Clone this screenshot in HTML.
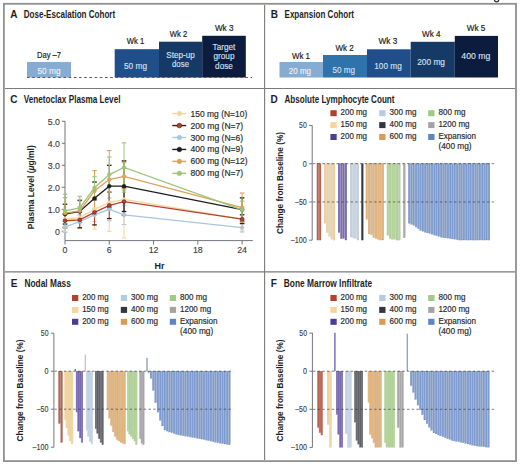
<!DOCTYPE html>
<html><head><meta charset="utf-8"><style>
html,body{margin:0;padding:0;background:#fff;width:520px;height:466px;overflow:hidden}
svg{display:block}
text{font-family:"Liberation Sans", sans-serif}
</style></head><body>
<svg width="520" height="466" viewBox="0 0 520 466">
<rect width="520" height="466" fill="#fff"/>
<path d="M494.3,-1 Q494.4,1.9 496.6,1.9 Q498.8,1.9 498.9,-1" fill="none" stroke="#2a2a2a" stroke-width="1.3"/>
<rect x="3.9" y="3.8" width="512.1" height="457.3" fill="none" stroke="#909090" stroke-width="1.8"/>
<line x1="5.00" y1="88.50" x2="515.00" y2="88.50" stroke="#7a7a7a" stroke-width="1.15"/>
<line x1="5.00" y1="271.90" x2="515.00" y2="271.90" stroke="#7a7a7a" stroke-width="1.15"/>
<line x1="264.60" y1="5.00" x2="264.60" y2="460.00" stroke="#7a7a7a" stroke-width="1.1"/>
<text x="10.3" y="17.8" font-size="10" font-weight="bold" fill="#1e1e1e" text-anchor="start">A</text>
<text x="23.7" y="17.8" font-size="10" font-weight="bold" fill="#1e1e1e" text-anchor="start" textLength="91.5" lengthAdjust="spacingAndGlyphs">Dose-Escalation Cohort</text>
<rect x="27.00" y="62.00" width="44.00" height="15.50" fill="#86acd3"/>
<text x="49" y="73.8" font-size="8.2" font-weight="normal" fill="#eef3f9" text-anchor="middle" textLength="23" lengthAdjust="spacingAndGlyphs" stroke="#eef3f9" stroke-width="0.12">50 mg</text>
<text x="49" y="57.8" font-size="8.2" font-weight="normal" fill="#222" text-anchor="middle" textLength="24" lengthAdjust="spacingAndGlyphs" stroke="#222" stroke-width="0.18">Day –7</text>
<rect x="114.70" y="49.20" width="44.30" height="28.30" fill="#1f4e8a"/>
<rect x="159.00" y="41.70" width="43.20" height="35.80" fill="#163a66"/>
<rect x="202.20" y="35.80" width="43.60" height="41.70" fill="#0c1c3e"/>
<text x="135.5" y="43.8" font-size="8.2" font-weight="normal" fill="#222" text-anchor="middle" textLength="17.5" lengthAdjust="spacingAndGlyphs" stroke="#222" stroke-width="0.18">Wk 1</text>
<text x="178.6" y="37.3" font-size="8.2" font-weight="normal" fill="#222" text-anchor="middle" textLength="17.5" lengthAdjust="spacingAndGlyphs" stroke="#222" stroke-width="0.18">Wk 2</text>
<text x="224.2" y="31.2" font-size="8.2" font-weight="normal" fill="#222" text-anchor="middle" textLength="18.5" lengthAdjust="spacingAndGlyphs" stroke="#222" stroke-width="0.18">Wk 3</text>
<text x="135.5" y="68.7" font-size="8.2" font-weight="normal" fill="#d9e2ef" text-anchor="middle" textLength="23" lengthAdjust="spacingAndGlyphs" stroke="#d9e2ef" stroke-width="0.12">50 mg</text>
<text x="180.5" y="57.5" font-size="8.2" font-weight="normal" fill="#d9e2ef" text-anchor="middle" textLength="28.5" lengthAdjust="spacingAndGlyphs" stroke="#d9e2ef" stroke-width="0.12">Step-up</text>
<text x="180.5" y="67" font-size="8.2" font-weight="normal" fill="#d9e2ef" text-anchor="middle" textLength="17" lengthAdjust="spacingAndGlyphs" stroke="#d9e2ef" stroke-width="0.12">dose</text>
<text x="224" y="49.6" font-size="8.2" font-weight="normal" fill="#d9e2ef" text-anchor="middle" stroke="#d9e2ef" stroke-width="0.12">Target</text>
<text x="224" y="59.4" font-size="8.2" font-weight="normal" fill="#d9e2ef" text-anchor="middle" stroke="#d9e2ef" stroke-width="0.12">group</text>
<text x="224" y="69.2" font-size="8.2" font-weight="normal" fill="#d9e2ef" text-anchor="middle" stroke="#d9e2ef" stroke-width="0.12">dose</text>
<line x1="27.00" y1="77.50" x2="252.00" y2="77.50" stroke="#5e5a5c" stroke-width="1.1" stroke-dasharray="2.6,2.6"/>
<text x="270.8" y="17.8" font-size="10" font-weight="bold" fill="#1e1e1e" text-anchor="start">B</text>
<text x="284.5" y="17.8" font-size="10" font-weight="bold" fill="#1e1e1e" text-anchor="start" textLength="69.5" lengthAdjust="spacingAndGlyphs">Expansion Cohort</text>
<rect x="279.50" y="62.00" width="43.50" height="15.50" fill="#86acd3"/>
<rect x="323.00" y="55.00" width="44.00" height="22.50" fill="#2f73ad"/>
<rect x="367.00" y="49.30" width="43.70" height="28.20" fill="#1f4e8a"/>
<rect x="410.70" y="41.80" width="44.10" height="35.70" fill="#163a66"/>
<rect x="454.80" y="35.90" width="43.20" height="41.60" fill="#0c1c3e"/>
<text x="301" y="58.8" font-size="8.4" font-weight="normal" fill="#222" text-anchor="middle" textLength="18" lengthAdjust="spacingAndGlyphs" stroke="#222" stroke-width="0.18">Wk 1</text>
<text x="344.6" y="51.3" font-size="8.4" font-weight="normal" fill="#222" text-anchor="middle" textLength="18.3" lengthAdjust="spacingAndGlyphs" stroke="#222" stroke-width="0.18">Wk 2</text>
<text x="387.9" y="44.2" font-size="8.4" font-weight="normal" fill="#222" text-anchor="middle" textLength="18.8" lengthAdjust="spacingAndGlyphs" stroke="#222" stroke-width="0.18">Wk 3</text>
<text x="431.25" y="37.4" font-size="8.4" font-weight="normal" fill="#222" text-anchor="middle" textLength="18.5" lengthAdjust="spacingAndGlyphs" stroke="#222" stroke-width="0.18">Wk 4</text>
<text x="476" y="31.4" font-size="8.4" font-weight="normal" fill="#222" text-anchor="middle" textLength="18.5" lengthAdjust="spacingAndGlyphs" stroke="#222" stroke-width="0.18">Wk 5</text>
<text x="299.9" y="73.8" font-size="8.4" font-weight="normal" fill="#eef3f9" text-anchor="middle" textLength="22.3" lengthAdjust="spacingAndGlyphs" stroke="#eef3f9" stroke-width="0.12">20 mg</text>
<text x="343.75" y="72.5" font-size="8.4" font-weight="normal" fill="#d9e2ef" text-anchor="middle" textLength="22.5" lengthAdjust="spacingAndGlyphs" stroke="#d9e2ef" stroke-width="0.12">50 mg</text>
<text x="388" y="68.6" font-size="8.4" font-weight="normal" fill="#d9e2ef" text-anchor="middle" textLength="27.4" lengthAdjust="spacingAndGlyphs" stroke="#d9e2ef" stroke-width="0.12">100 mg</text>
<text x="431.1" y="65" font-size="8.4" font-weight="normal" fill="#d9e2ef" text-anchor="middle" textLength="27.8" lengthAdjust="spacingAndGlyphs" stroke="#d9e2ef" stroke-width="0.12">200 mg</text>
<text x="475.8" y="59.1" font-size="8.4" font-weight="normal" fill="#d9e2ef" text-anchor="middle" textLength="29" lengthAdjust="spacingAndGlyphs" stroke="#d9e2ef" stroke-width="0.12">400 mg</text>
<text x="10.3" y="102.7" font-size="10" font-weight="bold" fill="#1e1e1e" text-anchor="start">C</text>
<text x="23.7" y="102.7" font-size="10" font-weight="bold" fill="#1e1e1e" text-anchor="start" textLength="96.8" lengthAdjust="spacingAndGlyphs">Venetoclax Plasma Level</text>
<line x1="65.00" y1="121.00" x2="65.00" y2="240.60" stroke="#72757c" stroke-width="1"/>
<line x1="65.00" y1="240.60" x2="252.80" y2="240.60" stroke="#72757c" stroke-width="1"/>
<line x1="61.80" y1="231.30" x2="65.00" y2="231.30" stroke="#72757c" stroke-width="1"/>
<text x="60.0" y="234.5" font-size="8.8" font-weight="normal" fill="#3a3a3a" text-anchor="end" stroke="#3a3a3a" stroke-width="0.12">0</text>
<line x1="61.80" y1="209.30" x2="65.00" y2="209.30" stroke="#72757c" stroke-width="1"/>
<text x="60.0" y="212.5" font-size="8.8" font-weight="normal" fill="#3a3a3a" text-anchor="end" stroke="#3a3a3a" stroke-width="0.12">1.0</text>
<line x1="61.80" y1="187.30" x2="65.00" y2="187.30" stroke="#72757c" stroke-width="1"/>
<text x="60.0" y="190.5" font-size="8.8" font-weight="normal" fill="#3a3a3a" text-anchor="end" stroke="#3a3a3a" stroke-width="0.12">2.0</text>
<line x1="61.80" y1="165.30" x2="65.00" y2="165.30" stroke="#72757c" stroke-width="1"/>
<text x="60.0" y="168.5" font-size="8.8" font-weight="normal" fill="#3a3a3a" text-anchor="end" stroke="#3a3a3a" stroke-width="0.12">3.0</text>
<line x1="61.80" y1="143.30" x2="65.00" y2="143.30" stroke="#72757c" stroke-width="1"/>
<text x="60.0" y="146.5" font-size="8.8" font-weight="normal" fill="#3a3a3a" text-anchor="end" stroke="#3a3a3a" stroke-width="0.12">4.0</text>
<line x1="61.80" y1="121.30" x2="65.00" y2="121.30" stroke="#72757c" stroke-width="1"/>
<text x="60.0" y="124.50000000000001" font-size="8.8" font-weight="normal" fill="#3a3a3a" text-anchor="end" stroke="#3a3a3a" stroke-width="0.12">5.0</text>
<line x1="65.00" y1="240.60" x2="65.00" y2="244.50" stroke="#72757c" stroke-width="1"/>
<text x="65.0" y="253.4" font-size="8.8" font-weight="normal" fill="#3a3a3a" text-anchor="middle" stroke="#3a3a3a" stroke-width="0.12">0</text>
<line x1="109.28" y1="240.60" x2="109.28" y2="244.50" stroke="#72757c" stroke-width="1"/>
<text x="109.28" y="253.4" font-size="8.8" font-weight="normal" fill="#3a3a3a" text-anchor="middle" stroke="#3a3a3a" stroke-width="0.12">6</text>
<line x1="153.56" y1="240.60" x2="153.56" y2="244.50" stroke="#72757c" stroke-width="1"/>
<text x="153.56" y="253.4" font-size="8.8" font-weight="normal" fill="#3a3a3a" text-anchor="middle" stroke="#3a3a3a" stroke-width="0.12">12</text>
<line x1="197.84" y1="240.60" x2="197.84" y2="244.50" stroke="#72757c" stroke-width="1"/>
<text x="197.84" y="253.4" font-size="8.8" font-weight="normal" fill="#3a3a3a" text-anchor="middle" stroke="#3a3a3a" stroke-width="0.12">18</text>
<line x1="242.12" y1="240.60" x2="242.12" y2="244.50" stroke="#72757c" stroke-width="1"/>
<text x="242.12" y="253.4" font-size="8.8" font-weight="normal" fill="#3a3a3a" text-anchor="middle" stroke="#3a3a3a" stroke-width="0.12">24</text>
<text x="159.4" y="269.4" font-size="9" font-weight="bold" fill="#1e1e1e" text-anchor="middle">Hr</text>
<text x="0" y="0" font-size="8.4" font-weight="bold" fill="#1e1e1e" text-anchor="middle" textLength="84" lengthAdjust="spacingAndGlyphs" transform="translate(34.3,187.2) rotate(-90)">Plasma Level (<tspan font-style="italic">μ</tspan>g/ml)</text>
<line x1="65.00" y1="221.40" x2="65.00" y2="232.40" stroke="#aac6de" stroke-width="1.0"/>
<line x1="62.70" y1="221.40" x2="67.30" y2="221.40" stroke="#aac6de" stroke-width="1.1"/>
<line x1="62.70" y1="232.40" x2="67.30" y2="232.40" stroke="#aac6de" stroke-width="1.1"/>
<line x1="79.76" y1="215.02" x2="79.76" y2="228.22" stroke="#aac6de" stroke-width="1.0"/>
<line x1="77.46" y1="215.02" x2="82.06" y2="215.02" stroke="#aac6de" stroke-width="1.1"/>
<line x1="77.46" y1="228.22" x2="82.06" y2="228.22" stroke="#aac6de" stroke-width="1.1"/>
<line x1="94.52" y1="208.20" x2="94.52" y2="221.40" stroke="#aac6de" stroke-width="1.0"/>
<line x1="92.22" y1="208.20" x2="96.82" y2="208.20" stroke="#aac6de" stroke-width="1.1"/>
<line x1="92.22" y1="221.40" x2="96.82" y2="221.40" stroke="#aac6de" stroke-width="1.1"/>
<line x1="109.28" y1="197.86" x2="109.28" y2="220.74" stroke="#aac6de" stroke-width="1.0"/>
<line x1="106.98" y1="197.86" x2="111.58" y2="197.86" stroke="#aac6de" stroke-width="1.1"/>
<line x1="106.98" y1="220.74" x2="111.58" y2="220.74" stroke="#aac6de" stroke-width="1.1"/>
<line x1="124.04" y1="205.12" x2="124.04" y2="224.48" stroke="#aac6de" stroke-width="1.0"/>
<line x1="121.74" y1="205.12" x2="126.34" y2="205.12" stroke="#aac6de" stroke-width="1.1"/>
<line x1="121.74" y1="224.48" x2="126.34" y2="224.48" stroke="#aac6de" stroke-width="1.1"/>
<line x1="242.12" y1="223.16" x2="242.12" y2="231.96" stroke="#aac6de" stroke-width="1.0"/>
<line x1="239.82" y1="223.16" x2="244.42" y2="223.16" stroke="#aac6de" stroke-width="1.1"/>
<line x1="239.82" y1="231.96" x2="244.42" y2="231.96" stroke="#aac6de" stroke-width="1.1"/>
<line x1="65.00" y1="207.10" x2="65.00" y2="231.30" stroke="#f6d59c" stroke-width="1.0"/>
<line x1="62.70" y1="207.10" x2="67.30" y2="207.10" stroke="#f6d59c" stroke-width="1.1"/>
<line x1="62.70" y1="231.30" x2="67.30" y2="231.30" stroke="#f6d59c" stroke-width="1.1"/>
<line x1="79.76" y1="206.66" x2="79.76" y2="228.66" stroke="#f6d59c" stroke-width="1.0"/>
<line x1="77.46" y1="206.66" x2="82.06" y2="206.66" stroke="#f6d59c" stroke-width="1.1"/>
<line x1="77.46" y1="228.66" x2="82.06" y2="228.66" stroke="#f6d59c" stroke-width="1.1"/>
<line x1="94.52" y1="189.50" x2="94.52" y2="229.10" stroke="#f6d59c" stroke-width="1.0"/>
<line x1="92.22" y1="189.50" x2="96.82" y2="189.50" stroke="#f6d59c" stroke-width="1.1"/>
<line x1="92.22" y1="229.10" x2="96.82" y2="229.10" stroke="#f6d59c" stroke-width="1.1"/>
<line x1="109.28" y1="174.10" x2="109.28" y2="231.30" stroke="#f6d59c" stroke-width="1.0"/>
<line x1="106.98" y1="174.10" x2="111.58" y2="174.10" stroke="#f6d59c" stroke-width="1.1"/>
<line x1="106.98" y1="231.30" x2="111.58" y2="231.30" stroke="#f6d59c" stroke-width="1.1"/>
<line x1="124.04" y1="160.90" x2="124.04" y2="237.90" stroke="#f6d59c" stroke-width="1.0"/>
<line x1="121.74" y1="160.90" x2="126.34" y2="160.90" stroke="#f6d59c" stroke-width="1.1"/>
<line x1="121.74" y1="237.90" x2="126.34" y2="237.90" stroke="#f6d59c" stroke-width="1.1"/>
<line x1="242.12" y1="208.20" x2="242.12" y2="230.20" stroke="#f6d59c" stroke-width="1.0"/>
<line x1="239.82" y1="208.20" x2="244.42" y2="208.20" stroke="#f6d59c" stroke-width="1.1"/>
<line x1="239.82" y1="230.20" x2="244.42" y2="230.20" stroke="#f6d59c" stroke-width="1.1"/>
<line x1="65.00" y1="214.14" x2="65.00" y2="227.34" stroke="#b8402c" stroke-width="1.0"/>
<line x1="62.70" y1="214.14" x2="67.30" y2="214.14" stroke="#3a1a12" stroke-width="1.3"/>
<line x1="62.70" y1="227.34" x2="67.30" y2="227.34" stroke="#3a1a12" stroke-width="1.3"/>
<line x1="79.76" y1="211.94" x2="79.76" y2="227.78" stroke="#b8402c" stroke-width="1.0"/>
<line x1="77.46" y1="211.94" x2="82.06" y2="211.94" stroke="#3a1a12" stroke-width="1.3"/>
<line x1="77.46" y1="227.78" x2="82.06" y2="227.78" stroke="#3a1a12" stroke-width="1.3"/>
<line x1="94.52" y1="199.84" x2="94.52" y2="224.92" stroke="#b8402c" stroke-width="1.0"/>
<line x1="92.22" y1="199.84" x2="96.82" y2="199.84" stroke="#3a1a12" stroke-width="1.3"/>
<line x1="92.22" y1="224.92" x2="96.82" y2="224.92" stroke="#3a1a12" stroke-width="1.3"/>
<line x1="109.28" y1="192.14" x2="109.28" y2="218.54" stroke="#b8402c" stroke-width="1.0"/>
<line x1="106.98" y1="192.14" x2="111.58" y2="192.14" stroke="#3a1a12" stroke-width="1.3"/>
<line x1="106.98" y1="218.54" x2="111.58" y2="218.54" stroke="#3a1a12" stroke-width="1.3"/>
<line x1="124.04" y1="187.74" x2="124.04" y2="215.46" stroke="#b8402c" stroke-width="1.0"/>
<line x1="121.74" y1="187.74" x2="126.34" y2="187.74" stroke="#3a1a12" stroke-width="1.3"/>
<line x1="121.74" y1="215.46" x2="126.34" y2="215.46" stroke="#3a1a12" stroke-width="1.3"/>
<line x1="242.12" y1="214.80" x2="242.12" y2="223.60" stroke="#b8402c" stroke-width="1.0"/>
<line x1="239.82" y1="214.80" x2="244.42" y2="214.80" stroke="#3a1a12" stroke-width="1.3"/>
<line x1="239.82" y1="223.60" x2="244.42" y2="223.60" stroke="#3a1a12" stroke-width="1.3"/>
<line x1="65.00" y1="204.24" x2="65.00" y2="224.04" stroke="#1e1e1e" stroke-width="1.0"/>
<line x1="62.70" y1="204.24" x2="67.30" y2="204.24" stroke="#1e1e1e" stroke-width="1.3"/>
<line x1="62.70" y1="224.04" x2="67.30" y2="224.04" stroke="#1e1e1e" stroke-width="1.3"/>
<line x1="79.76" y1="200.50" x2="79.76" y2="222.50" stroke="#1e1e1e" stroke-width="1.0"/>
<line x1="77.46" y1="200.50" x2="82.06" y2="200.50" stroke="#1e1e1e" stroke-width="1.3"/>
<line x1="77.46" y1="222.50" x2="82.06" y2="222.50" stroke="#1e1e1e" stroke-width="1.3"/>
<line x1="94.52" y1="182.02" x2="94.52" y2="214.58" stroke="#1e1e1e" stroke-width="1.0"/>
<line x1="92.22" y1="182.02" x2="96.82" y2="182.02" stroke="#1e1e1e" stroke-width="1.3"/>
<line x1="92.22" y1="214.58" x2="96.82" y2="214.58" stroke="#1e1e1e" stroke-width="1.3"/>
<line x1="109.28" y1="165.30" x2="109.28" y2="207.10" stroke="#1e1e1e" stroke-width="1.0"/>
<line x1="106.98" y1="165.30" x2="111.58" y2="165.30" stroke="#1e1e1e" stroke-width="1.3"/>
<line x1="106.98" y1="207.10" x2="111.58" y2="207.10" stroke="#1e1e1e" stroke-width="1.3"/>
<line x1="124.04" y1="160.90" x2="124.04" y2="211.50" stroke="#1e1e1e" stroke-width="1.0"/>
<line x1="121.74" y1="160.90" x2="126.34" y2="160.90" stroke="#1e1e1e" stroke-width="1.3"/>
<line x1="121.74" y1="211.50" x2="126.34" y2="211.50" stroke="#1e1e1e" stroke-width="1.3"/>
<line x1="242.12" y1="197.86" x2="242.12" y2="221.18" stroke="#1e1e1e" stroke-width="1.0"/>
<line x1="239.82" y1="197.86" x2="244.42" y2="197.86" stroke="#1e1e1e" stroke-width="1.3"/>
<line x1="239.82" y1="221.18" x2="244.42" y2="221.18" stroke="#1e1e1e" stroke-width="1.3"/>
<line x1="65.00" y1="197.64" x2="65.00" y2="228.44" stroke="#dba25a" stroke-width="1.0"/>
<line x1="62.70" y1="197.64" x2="67.30" y2="197.64" stroke="#dba25a" stroke-width="1.1"/>
<line x1="62.70" y1="228.44" x2="67.30" y2="228.44" stroke="#dba25a" stroke-width="1.1"/>
<line x1="79.76" y1="199.84" x2="79.76" y2="221.84" stroke="#dba25a" stroke-width="1.0"/>
<line x1="77.46" y1="199.84" x2="82.06" y2="199.84" stroke="#dba25a" stroke-width="1.1"/>
<line x1="77.46" y1="221.84" x2="82.06" y2="221.84" stroke="#dba25a" stroke-width="1.1"/>
<line x1="94.52" y1="170.58" x2="94.52" y2="211.06" stroke="#dba25a" stroke-width="1.0"/>
<line x1="92.22" y1="170.58" x2="96.82" y2="170.58" stroke="#dba25a" stroke-width="1.1"/>
<line x1="92.22" y1="211.06" x2="96.82" y2="211.06" stroke="#dba25a" stroke-width="1.1"/>
<line x1="109.28" y1="150.56" x2="109.28" y2="208.64" stroke="#dba25a" stroke-width="1.0"/>
<line x1="106.98" y1="150.56" x2="111.58" y2="150.56" stroke="#dba25a" stroke-width="1.1"/>
<line x1="106.98" y1="208.64" x2="111.58" y2="208.64" stroke="#dba25a" stroke-width="1.1"/>
<line x1="124.04" y1="162.66" x2="124.04" y2="189.94" stroke="#dba25a" stroke-width="1.0"/>
<line x1="121.74" y1="162.66" x2="126.34" y2="162.66" stroke="#dba25a" stroke-width="1.1"/>
<line x1="121.74" y1="189.94" x2="126.34" y2="189.94" stroke="#dba25a" stroke-width="1.1"/>
<line x1="242.12" y1="193.02" x2="242.12" y2="222.06" stroke="#dba25a" stroke-width="1.0"/>
<line x1="239.82" y1="193.02" x2="244.42" y2="193.02" stroke="#dba25a" stroke-width="1.1"/>
<line x1="239.82" y1="222.06" x2="244.42" y2="222.06" stroke="#dba25a" stroke-width="1.1"/>
<line x1="65.00" y1="194.12" x2="65.00" y2="227.56" stroke="#9dc47a" stroke-width="1.0"/>
<line x1="62.70" y1="194.12" x2="67.30" y2="194.12" stroke="#9dc47a" stroke-width="1.1"/>
<line x1="62.70" y1="227.56" x2="67.30" y2="227.56" stroke="#9dc47a" stroke-width="1.1"/>
<line x1="79.76" y1="196.32" x2="79.76" y2="219.64" stroke="#9dc47a" stroke-width="1.0"/>
<line x1="77.46" y1="196.32" x2="82.06" y2="196.32" stroke="#9dc47a" stroke-width="1.1"/>
<line x1="77.46" y1="219.64" x2="82.06" y2="219.64" stroke="#9dc47a" stroke-width="1.1"/>
<line x1="94.52" y1="176.74" x2="94.52" y2="198.74" stroke="#9dc47a" stroke-width="1.0"/>
<line x1="92.22" y1="176.74" x2="96.82" y2="176.74" stroke="#9dc47a" stroke-width="1.1"/>
<line x1="92.22" y1="198.74" x2="96.82" y2="198.74" stroke="#9dc47a" stroke-width="1.1"/>
<line x1="109.28" y1="156.94" x2="109.28" y2="192.14" stroke="#9dc47a" stroke-width="1.0"/>
<line x1="106.98" y1="156.94" x2="111.58" y2="156.94" stroke="#9dc47a" stroke-width="1.1"/>
<line x1="106.98" y1="192.14" x2="111.58" y2="192.14" stroke="#9dc47a" stroke-width="1.1"/>
<line x1="124.04" y1="142.86" x2="124.04" y2="192.14" stroke="#9dc47a" stroke-width="1.0"/>
<line x1="121.74" y1="142.86" x2="126.34" y2="142.86" stroke="#9dc47a" stroke-width="1.1"/>
<line x1="121.74" y1="192.14" x2="126.34" y2="192.14" stroke="#9dc47a" stroke-width="1.1"/>
<line x1="242.12" y1="201.16" x2="242.12" y2="218.76" stroke="#9dc47a" stroke-width="1.0"/>
<line x1="239.82" y1="201.16" x2="244.42" y2="201.16" stroke="#9dc47a" stroke-width="1.1"/>
<line x1="239.82" y1="218.76" x2="244.42" y2="218.76" stroke="#9dc47a" stroke-width="1.1"/>
<polyline points="65.00,226.90 79.76,221.62 94.52,214.80 109.28,209.30 124.04,214.80 242.12,227.56" fill="none" stroke="#aac6de" stroke-width="1.3"/>
<circle cx="65.00" cy="226.90" r="1.9" fill="#aac6de" stroke="#aac6de" stroke-width="0.5"/>
<circle cx="79.76" cy="221.62" r="1.9" fill="#aac6de" stroke="#aac6de" stroke-width="0.5"/>
<circle cx="94.52" cy="214.80" r="1.9" fill="#aac6de" stroke="#aac6de" stroke-width="0.5"/>
<circle cx="109.28" cy="209.30" r="1.9" fill="#aac6de" stroke="#aac6de" stroke-width="0.5"/>
<circle cx="124.04" cy="214.80" r="1.9" fill="#aac6de" stroke="#aac6de" stroke-width="0.5"/>
<circle cx="242.12" cy="227.56" r="1.9" fill="#aac6de" stroke="#aac6de" stroke-width="0.5"/>
<polyline points="65.00,219.20 79.76,217.66 94.52,209.30 109.28,202.70 124.04,199.40 242.12,219.20" fill="none" stroke="#f6d59c" stroke-width="1.3"/>
<circle cx="65.00" cy="219.20" r="1.9" fill="#f6d59c" stroke="#f6d59c" stroke-width="0.5"/>
<circle cx="79.76" cy="217.66" r="1.9" fill="#f6d59c" stroke="#f6d59c" stroke-width="0.5"/>
<circle cx="94.52" cy="209.30" r="1.9" fill="#f6d59c" stroke="#f6d59c" stroke-width="0.5"/>
<circle cx="109.28" cy="202.70" r="1.9" fill="#f6d59c" stroke="#f6d59c" stroke-width="0.5"/>
<circle cx="124.04" cy="199.40" r="1.9" fill="#f6d59c" stroke="#f6d59c" stroke-width="0.5"/>
<circle cx="242.12" cy="219.20" r="1.9" fill="#f6d59c" stroke="#f6d59c" stroke-width="0.5"/>
<polyline points="65.00,220.74 79.76,219.86 94.52,212.38 109.28,205.34 124.04,201.60 242.12,219.20" fill="none" stroke="#b8402c" stroke-width="1.3"/>
<circle cx="65.00" cy="220.74" r="1.9" fill="#b8402c" stroke="#3a1a12" stroke-width="0.5"/>
<circle cx="79.76" cy="219.86" r="1.9" fill="#b8402c" stroke="#3a1a12" stroke-width="0.5"/>
<circle cx="94.52" cy="212.38" r="1.9" fill="#b8402c" stroke="#3a1a12" stroke-width="0.5"/>
<circle cx="109.28" cy="205.34" r="1.9" fill="#b8402c" stroke="#3a1a12" stroke-width="0.5"/>
<circle cx="124.04" cy="201.60" r="1.9" fill="#b8402c" stroke="#3a1a12" stroke-width="0.5"/>
<circle cx="242.12" cy="219.20" r="1.9" fill="#b8402c" stroke="#3a1a12" stroke-width="0.5"/>
<polyline points="65.00,214.14 79.76,211.50 94.52,198.30 109.28,186.20 124.04,186.20 242.12,209.52" fill="none" stroke="#1e1e1e" stroke-width="1.3"/>
<circle cx="65.00" cy="214.14" r="1.9" fill="#1e1e1e" stroke="#1e1e1e" stroke-width="0.5"/>
<circle cx="79.76" cy="211.50" r="1.9" fill="#1e1e1e" stroke="#1e1e1e" stroke-width="0.5"/>
<circle cx="94.52" cy="198.30" r="1.9" fill="#1e1e1e" stroke="#1e1e1e" stroke-width="0.5"/>
<circle cx="109.28" cy="186.20" r="1.9" fill="#1e1e1e" stroke="#1e1e1e" stroke-width="0.5"/>
<circle cx="124.04" cy="186.20" r="1.9" fill="#1e1e1e" stroke="#1e1e1e" stroke-width="0.5"/>
<circle cx="242.12" cy="209.52" r="1.9" fill="#1e1e1e" stroke="#1e1e1e" stroke-width="0.5"/>
<polyline points="65.00,213.04 79.76,210.84 94.52,190.82 109.28,179.60 124.04,176.30 242.12,207.54" fill="none" stroke="#dba25a" stroke-width="1.3"/>
<circle cx="65.00" cy="213.04" r="1.9" fill="#dba25a" stroke="#dba25a" stroke-width="0.5"/>
<circle cx="79.76" cy="210.84" r="1.9" fill="#dba25a" stroke="#dba25a" stroke-width="0.5"/>
<circle cx="94.52" cy="190.82" r="1.9" fill="#dba25a" stroke="#dba25a" stroke-width="0.5"/>
<circle cx="109.28" cy="179.60" r="1.9" fill="#dba25a" stroke="#dba25a" stroke-width="0.5"/>
<circle cx="124.04" cy="176.30" r="1.9" fill="#dba25a" stroke="#dba25a" stroke-width="0.5"/>
<circle cx="242.12" cy="207.54" r="1.9" fill="#dba25a" stroke="#dba25a" stroke-width="0.5"/>
<polyline points="65.00,210.84 79.76,207.98 94.52,187.74 109.28,174.54 124.04,167.50 242.12,209.96" fill="none" stroke="#9dc47a" stroke-width="1.3"/>
<circle cx="65.00" cy="210.84" r="1.9" fill="#9dc47a" stroke="#9dc47a" stroke-width="0.5"/>
<circle cx="79.76" cy="207.98" r="1.9" fill="#9dc47a" stroke="#9dc47a" stroke-width="0.5"/>
<circle cx="94.52" cy="187.74" r="1.9" fill="#9dc47a" stroke="#9dc47a" stroke-width="0.5"/>
<circle cx="109.28" cy="174.54" r="1.9" fill="#9dc47a" stroke="#9dc47a" stroke-width="0.5"/>
<circle cx="124.04" cy="167.50" r="1.9" fill="#9dc47a" stroke="#9dc47a" stroke-width="0.5"/>
<circle cx="242.12" cy="209.96" r="1.9" fill="#9dc47a" stroke="#9dc47a" stroke-width="0.5"/>
<line x1="172.30" y1="113.60" x2="186.20" y2="113.60" stroke="#f6d59c" stroke-width="1.4"/>
<circle cx="179.4" cy="113.60" r="2.3" fill="#f6d59c" stroke="#f6d59c" stroke-width="0.6"/>
<text x="190.6" y="116.6" font-size="8.6" font-weight="normal" fill="#2b2b2b" text-anchor="start" textLength="56.6" lengthAdjust="spacingAndGlyphs" stroke="#2b2b2b" stroke-width="0.18">150 mg (N=10)</text>
<line x1="172.30" y1="125.55" x2="186.20" y2="125.55" stroke="#3a1a12" stroke-width="1.4"/>
<circle cx="179.4" cy="125.55" r="2.3" fill="#b8402c" stroke="#3a1a12" stroke-width="0.6"/>
<text x="190.6" y="128.55" font-size="8.6" font-weight="normal" fill="#2b2b2b" text-anchor="start" textLength="52.6" lengthAdjust="spacingAndGlyphs" stroke="#2b2b2b" stroke-width="0.18">200 mg (N=7)</text>
<line x1="172.30" y1="137.50" x2="186.20" y2="137.50" stroke="#aac6de" stroke-width="1.4"/>
<circle cx="179.4" cy="137.50" r="2.3" fill="#aac6de" stroke="#aac6de" stroke-width="0.6"/>
<text x="190.6" y="140.5" font-size="8.6" font-weight="normal" fill="#2b2b2b" text-anchor="start" textLength="52.6" lengthAdjust="spacingAndGlyphs" stroke="#2b2b2b" stroke-width="0.18">300 mg (N=6)</text>
<line x1="172.30" y1="149.45" x2="186.20" y2="149.45" stroke="#1e1e1e" stroke-width="1.4"/>
<circle cx="179.4" cy="149.45" r="2.3" fill="#1e1e1e" stroke="#1e1e1e" stroke-width="0.6"/>
<text x="190.6" y="152.45" font-size="8.6" font-weight="normal" fill="#2b2b2b" text-anchor="start" textLength="52.6" lengthAdjust="spacingAndGlyphs" stroke="#2b2b2b" stroke-width="0.18">400 mg (N=9)</text>
<line x1="172.30" y1="161.40" x2="186.20" y2="161.40" stroke="#dba25a" stroke-width="1.4"/>
<circle cx="179.4" cy="161.40" r="2.3" fill="#dba25a" stroke="#dba25a" stroke-width="0.6"/>
<text x="190.6" y="164.39999999999998" font-size="8.6" font-weight="normal" fill="#2b2b2b" text-anchor="start" textLength="57" lengthAdjust="spacingAndGlyphs" stroke="#2b2b2b" stroke-width="0.18">600 mg (N=12)</text>
<line x1="172.30" y1="173.35" x2="186.20" y2="173.35" stroke="#9dc47a" stroke-width="1.4"/>
<circle cx="179.4" cy="173.35" r="2.3" fill="#9dc47a" stroke="#9dc47a" stroke-width="0.6"/>
<text x="190.6" y="176.35" font-size="8.6" font-weight="normal" fill="#2b2b2b" text-anchor="start" textLength="52.6" lengthAdjust="spacingAndGlyphs" stroke="#2b2b2b" stroke-width="0.18">800 mg (N=7)</text>
<text x="270.5" y="102.7" font-size="10" font-weight="bold" fill="#1e1e1e" text-anchor="start">D</text>
<text x="284.5" y="102.7" font-size="10" font-weight="bold" fill="#1e1e1e" text-anchor="start" textLength="110" lengthAdjust="spacingAndGlyphs">Absolute Lymphocyte Count</text>
<rect x="330.40" y="110.20" width="6.30" height="6.00" fill="#b5402a"/>
<text x="340.59999999999997" y="115.4" font-size="8.3" font-weight="normal" fill="#2b2b2b" text-anchor="start" textLength="26.4" lengthAdjust="spacingAndGlyphs" stroke="#2b2b2b" stroke-width="0.18">200 mg</text>
<rect x="330.40" y="122.10" width="6.30" height="6.00" fill="#f6d59c"/>
<text x="340.59999999999997" y="127.30000000000001" font-size="8.3" font-weight="normal" fill="#2b2b2b" text-anchor="start" textLength="26.4" lengthAdjust="spacingAndGlyphs" stroke="#2b2b2b" stroke-width="0.18">150 mg</text>
<rect x="330.40" y="134.00" width="6.30" height="6.00" fill="#4a3d96"/>
<text x="340.59999999999997" y="139.2" font-size="8.3" font-weight="normal" fill="#2b2b2b" text-anchor="start" textLength="26.4" lengthAdjust="spacingAndGlyphs" stroke="#2b2b2b" stroke-width="0.18">200 mg</text>
<rect x="379.20" y="110.20" width="6.30" height="6.00" fill="#b3cde0"/>
<text x="389.4" y="115.4" font-size="8.3" font-weight="normal" fill="#2b2b2b" text-anchor="start" textLength="27.0" lengthAdjust="spacingAndGlyphs" stroke="#2b2b2b" stroke-width="0.18">300 mg</text>
<rect x="379.20" y="122.10" width="6.30" height="6.00" fill="#33363d"/>
<text x="389.4" y="127.30000000000001" font-size="8.3" font-weight="normal" fill="#2b2b2b" text-anchor="start" textLength="27.0" lengthAdjust="spacingAndGlyphs" stroke="#2b2b2b" stroke-width="0.18">400 mg</text>
<rect x="379.20" y="134.00" width="6.30" height="6.00" fill="#d99b52"/>
<text x="389.4" y="139.2" font-size="8.3" font-weight="normal" fill="#2b2b2b" text-anchor="start" textLength="27.0" lengthAdjust="spacingAndGlyphs" stroke="#2b2b2b" stroke-width="0.18">600 mg</text>
<rect x="428.20" y="110.20" width="6.30" height="6.00" fill="#9fcb84"/>
<text x="438.4" y="115.4" font-size="8.3" font-weight="normal" fill="#2b2b2b" text-anchor="start" textLength="27.0" lengthAdjust="spacingAndGlyphs" stroke="#2b2b2b" stroke-width="0.18">800 mg</text>
<rect x="428.20" y="122.10" width="6.30" height="6.00" fill="#a3a3a3"/>
<text x="438.4" y="127.30000000000001" font-size="8.3" font-weight="normal" fill="#2b2b2b" text-anchor="start" textLength="31.2" lengthAdjust="spacingAndGlyphs" stroke="#2b2b2b" stroke-width="0.18">1200 mg</text>
<rect x="428.20" y="134.00" width="6.30" height="6.00" fill="#5f84c6"/>
<text x="438.4" y="139.2" font-size="8.3" font-weight="normal" fill="#2b2b2b" text-anchor="start" textLength="37.5" lengthAdjust="spacingAndGlyphs" stroke="#2b2b2b" stroke-width="0.18">Expansion</text>
<text x="438.4" y="149.2" font-size="8.3" font-weight="normal" fill="#2b2b2b" text-anchor="start" textLength="33.2" lengthAdjust="spacingAndGlyphs" stroke="#2b2b2b" stroke-width="0.18">(400 mg)</text>
<g fill="#b9624f" stroke="#9d5343" stroke-width="0.3"><rect x="316.95" y="163.70" width="1.70" height="76.35"/><rect x="319.25" y="163.70" width="1.70" height="76.35"/></g>
<g fill="#f1d6a3" stroke="#ccb58a" stroke-width="0.3"><rect x="324.05" y="163.70" width="1.70" height="59.52"/><rect x="326.35" y="163.70" width="1.70" height="68.70"/><rect x="328.65" y="163.70" width="1.70" height="72.52"/><rect x="330.95" y="163.70" width="1.70" height="75.58"/><rect x="333.25" y="163.70" width="1.70" height="76.35"/></g>
<g fill="#7a6bb4" stroke="#675a99" stroke-width="0.3"><rect x="338.15" y="163.70" width="1.70" height="68.70"/><rect x="340.45" y="163.70" width="1.70" height="74.82"/><rect x="342.75" y="163.70" width="1.70" height="74.82"/><rect x="345.05" y="163.70" width="1.70" height="76.35"/></g>
<g fill="#c6d5e6" stroke="#a8b5c3" stroke-width="0.3"><rect x="350.15" y="163.70" width="1.70" height="73.29"/><rect x="352.45" y="163.70" width="1.70" height="74.05"/><rect x="354.75" y="163.70" width="1.70" height="74.82"/><rect x="357.05" y="163.70" width="1.70" height="76.35"/></g>
<g fill="#323844" stroke="#2a2f39" stroke-width="0.3"><rect x="361.45" y="163.70" width="1.70" height="76.35"/></g>
<g fill="#e4b57d" stroke="#c1996a" stroke-width="0.3"><rect x="365.95" y="163.70" width="1.70" height="55.70"/><rect x="368.25" y="163.70" width="1.70" height="70.23"/><rect x="370.55" y="163.70" width="1.70" height="70.99"/><rect x="372.85" y="163.70" width="1.70" height="74.05"/><rect x="375.15" y="163.70" width="1.70" height="74.82"/><rect x="377.45" y="163.70" width="1.70" height="75.58"/><rect x="379.75" y="163.70" width="1.70" height="76.35"/><rect x="382.05" y="163.70" width="1.70" height="76.35"/></g>
<g fill="#b3d49a" stroke="#98b482" stroke-width="0.3"><rect x="386.95" y="163.70" width="1.70" height="71.76"/><rect x="389.25" y="163.70" width="1.70" height="74.82"/><rect x="391.55" y="163.70" width="1.70" height="75.58"/><rect x="393.85" y="163.70" width="1.70" height="75.58"/><rect x="396.15" y="163.70" width="1.70" height="76.35"/><rect x="398.45" y="163.70" width="1.70" height="76.35"/></g>
<g fill="#a9a9ab" stroke="#8f8f91" stroke-width="0.3"><rect x="403.45" y="163.70" width="1.70" height="74.05"/></g>
<g fill="#7f9dd2" stroke="#6b85b2" stroke-width="0.3"><rect x="408.35" y="163.70" width="1.68" height="59.52"/><rect x="410.63" y="163.70" width="1.68" height="60.61"/><rect x="412.91" y="163.70" width="1.68" height="61.71"/><rect x="415.19" y="163.70" width="1.68" height="63.35"/><rect x="417.47" y="163.70" width="1.68" height="65.05"/><rect x="419.75" y="163.70" width="1.68" height="66.74"/><rect x="422.03" y="163.70" width="1.68" height="67.72"/><rect x="424.31" y="163.70" width="1.68" height="68.44"/><rect x="426.59" y="163.70" width="1.68" height="69.17"/><rect x="428.87" y="163.70" width="1.68" height="69.90"/><rect x="431.16" y="163.70" width="1.68" height="70.63"/><rect x="433.44" y="163.70" width="1.68" height="71.36"/><rect x="435.72" y="163.70" width="1.68" height="72.09"/><rect x="438.00" y="163.70" width="1.68" height="72.82"/><rect x="440.28" y="163.70" width="1.68" height="73.42"/><rect x="442.56" y="163.70" width="1.68" height="73.78"/><rect x="444.84" y="163.70" width="1.68" height="74.15"/><rect x="447.12" y="163.70" width="1.68" height="74.51"/><rect x="449.40" y="163.70" width="1.68" height="74.87"/><rect x="451.68" y="163.70" width="1.68" height="75.24"/><rect x="453.96" y="163.70" width="1.68" height="75.60"/><rect x="456.24" y="163.70" width="1.68" height="75.97"/><rect x="458.52" y="163.70" width="1.68" height="76.33"/><rect x="460.80" y="163.70" width="1.68" height="76.35"/><rect x="463.08" y="163.70" width="1.68" height="76.35"/><rect x="465.36" y="163.70" width="1.68" height="76.35"/><rect x="467.64" y="163.70" width="1.68" height="76.35"/><rect x="469.92" y="163.70" width="1.68" height="76.35"/><rect x="472.21" y="163.70" width="1.68" height="76.35"/><rect x="474.49" y="163.70" width="1.68" height="76.35"/><rect x="476.77" y="163.70" width="1.68" height="76.35"/><rect x="479.05" y="163.70" width="1.68" height="76.35"/><rect x="481.33" y="163.70" width="1.68" height="76.35"/><rect x="483.61" y="163.70" width="1.68" height="76.35"/><rect x="485.89" y="163.70" width="1.68" height="76.35"/><rect x="488.17" y="163.70" width="1.68" height="76.35"/></g>
<line x1="312.20" y1="125.40" x2="312.20" y2="240.20" stroke="#72757c" stroke-width="1"/>
<line x1="309.20" y1="125.45" x2="312.20" y2="125.45" stroke="#72757c" stroke-width="1"/>
<text x="306.8" y="128.45" font-size="8.6" font-weight="normal" fill="#3a3a3a" text-anchor="end" textLength="7.7" lengthAdjust="spacingAndGlyphs" stroke="#3a3a3a" stroke-width="0.12">50</text>
<line x1="309.20" y1="163.70" x2="312.20" y2="163.70" stroke="#72757c" stroke-width="1"/>
<text x="306.8" y="166.7" font-size="8.6" font-weight="normal" fill="#3a3a3a" text-anchor="end" textLength="4.0" lengthAdjust="spacingAndGlyphs" stroke="#3a3a3a" stroke-width="0.12">0</text>
<line x1="309.20" y1="201.95" x2="312.20" y2="201.95" stroke="#72757c" stroke-width="1"/>
<text x="306.8" y="204.95" font-size="8.6" font-weight="normal" fill="#3a3a3a" text-anchor="end" textLength="11.8" lengthAdjust="spacingAndGlyphs" stroke="#3a3a3a" stroke-width="0.12">–50</text>
<line x1="309.20" y1="240.20" x2="312.20" y2="240.20" stroke="#72757c" stroke-width="1"/>
<text x="306.8" y="243.2" font-size="8.6" font-weight="normal" fill="#3a3a3a" text-anchor="end" textLength="16.0" lengthAdjust="spacingAndGlyphs" stroke="#3a3a3a" stroke-width="0.12">–100</text>
<text x="0" y="0" font-size="8.4" font-weight="bold" fill="#1e1e1e" text-anchor="middle" textLength="102" lengthAdjust="spacingAndGlyphs" transform="translate(283.4,183) rotate(-90)">Change from Baseline (%)</text>
<line x1="313.00" y1="163.70" x2="494.00" y2="163.70" stroke="#3c3c44" stroke-width="0.9" stroke-dasharray="2.4,2.3" stroke-opacity="0.75"/>
<line x1="313.00" y1="201.95" x2="494.00" y2="201.95" stroke="#3c3c44" stroke-width="0.9" stroke-dasharray="2.4,2.3" stroke-opacity="0.75"/>
<text x="10.8" y="287.0" font-size="10" font-weight="bold" fill="#1e1e1e" text-anchor="start">E</text>
<text x="24.5" y="287.0" font-size="10" font-weight="bold" fill="#1e1e1e" text-anchor="start" textLength="46.3" lengthAdjust="spacingAndGlyphs">Nodal Mass</text>
<rect x="72.00" y="295.00" width="6.30" height="6.00" fill="#b5402a"/>
<text x="82.2" y="300.2" font-size="8.3" font-weight="normal" fill="#2b2b2b" text-anchor="start" textLength="26.4" lengthAdjust="spacingAndGlyphs" stroke="#2b2b2b" stroke-width="0.18">200 mg</text>
<rect x="72.00" y="306.90" width="6.30" height="6.00" fill="#f6d59c"/>
<text x="82.2" y="312.09999999999997" font-size="8.3" font-weight="normal" fill="#2b2b2b" text-anchor="start" textLength="26.4" lengthAdjust="spacingAndGlyphs" stroke="#2b2b2b" stroke-width="0.18">150 mg</text>
<rect x="72.00" y="318.80" width="6.30" height="6.00" fill="#4a3d96"/>
<text x="82.2" y="324.0" font-size="8.3" font-weight="normal" fill="#2b2b2b" text-anchor="start" textLength="26.4" lengthAdjust="spacingAndGlyphs" stroke="#2b2b2b" stroke-width="0.18">200 mg</text>
<rect x="120.80" y="295.00" width="6.30" height="6.00" fill="#b3cde0"/>
<text x="131.0" y="300.2" font-size="8.3" font-weight="normal" fill="#2b2b2b" text-anchor="start" textLength="27.0" lengthAdjust="spacingAndGlyphs" stroke="#2b2b2b" stroke-width="0.18">300 mg</text>
<rect x="120.80" y="306.90" width="6.30" height="6.00" fill="#33363d"/>
<text x="131.0" y="312.09999999999997" font-size="8.3" font-weight="normal" fill="#2b2b2b" text-anchor="start" textLength="27.0" lengthAdjust="spacingAndGlyphs" stroke="#2b2b2b" stroke-width="0.18">400 mg</text>
<rect x="120.80" y="318.80" width="6.30" height="6.00" fill="#d99b52"/>
<text x="131.0" y="324.0" font-size="8.3" font-weight="normal" fill="#2b2b2b" text-anchor="start" textLength="27.0" lengthAdjust="spacingAndGlyphs" stroke="#2b2b2b" stroke-width="0.18">600 mg</text>
<rect x="169.80" y="295.00" width="6.30" height="6.00" fill="#9fcb84"/>
<text x="180.0" y="300.2" font-size="8.3" font-weight="normal" fill="#2b2b2b" text-anchor="start" textLength="27.0" lengthAdjust="spacingAndGlyphs" stroke="#2b2b2b" stroke-width="0.18">800 mg</text>
<rect x="169.80" y="306.90" width="6.30" height="6.00" fill="#a3a3a3"/>
<text x="180.0" y="312.09999999999997" font-size="8.3" font-weight="normal" fill="#2b2b2b" text-anchor="start" textLength="31.2" lengthAdjust="spacingAndGlyphs" stroke="#2b2b2b" stroke-width="0.18">1200 mg</text>
<rect x="169.80" y="318.80" width="6.30" height="6.00" fill="#5f84c6"/>
<text x="180.0" y="324.0" font-size="8.3" font-weight="normal" fill="#2b2b2b" text-anchor="start" textLength="37.5" lengthAdjust="spacingAndGlyphs" stroke="#2b2b2b" stroke-width="0.18">Expansion</text>
<text x="180.0" y="334.0" font-size="8.3" font-weight="normal" fill="#2b2b2b" text-anchor="start" textLength="33.2" lengthAdjust="spacingAndGlyphs" stroke="#2b2b2b" stroke-width="0.18">(400 mg)</text>
<g fill="#b9624f" stroke="#9d5343" stroke-width="0.3"><rect x="58.55" y="371.20" width="1.65" height="52.29"/><rect x="60.80" y="371.20" width="1.65" height="71.29"/></g>
<g fill="#f1d6a3" stroke="#f1d6a3" stroke-width="0.3"><rect x="64.35" y="371.20" width="1.50" height="48.49"/><rect x="66.15" y="371.20" width="1.50" height="56.85"/><rect x="67.95" y="371.20" width="1.50" height="64.45"/><rect x="69.75" y="371.20" width="1.50" height="69.77"/><rect x="71.55" y="371.20" width="1.50" height="72.81"/></g>
<g stroke="#d4bc8f" stroke-width="0.35"><line x1="66.00" y1="371.20" x2="66.00" y2="428.20"/><line x1="67.80" y1="371.20" x2="67.80" y2="435.80"/><line x1="69.60" y1="371.20" x2="69.60" y2="441.12"/><line x1="71.40" y1="371.20" x2="71.40" y2="444.16"/></g>
<rect x="74.60" y="369.00" width="1.40" height="2.20" fill="#7a6bb4"/>
<g fill="#7a6bb4" stroke="#7a6bb4" stroke-width="0.3"><rect x="76.05" y="371.20" width="1.48" height="40.89"/><rect x="77.83" y="371.20" width="1.48" height="59.89"/><rect x="79.61" y="371.20" width="1.48" height="66.73"/><rect x="81.39" y="371.20" width="1.48" height="71.29"/></g>
<g stroke="#6b5e9e" stroke-width="0.35"><line x1="77.68" y1="371.20" x2="77.68" y2="431.24"/><line x1="79.46" y1="371.20" x2="79.46" y2="438.08"/><line x1="81.24" y1="371.20" x2="81.24" y2="442.64"/></g>
<rect x="84.80" y="354.50" width="0.90" height="16.70" fill="#a7acb8"/>
<g fill="#c6d5e6" stroke="#c6d5e6" stroke-width="0.3"><rect x="86.05" y="371.20" width="1.48" height="59.13"/><rect x="87.83" y="371.20" width="1.48" height="65.21"/><rect x="89.61" y="371.20" width="1.48" height="70.53"/><rect x="91.39" y="371.20" width="1.48" height="72.81"/></g>
<g stroke="#aebbca" stroke-width="0.35"><line x1="87.68" y1="371.20" x2="87.68" y2="436.56"/><line x1="89.46" y1="371.20" x2="89.46" y2="441.88"/><line x1="91.24" y1="371.20" x2="91.24" y2="444.16"/></g>
<g fill="#63646b" stroke="#63646b" stroke-width="0.3"><rect x="95.15" y="371.20" width="1.42" height="57.61"/><rect x="96.87" y="371.20" width="1.42" height="62.17"/><rect x="98.59" y="371.20" width="1.42" height="67.49"/><rect x="100.31" y="371.20" width="1.42" height="71.29"/><rect x="102.03" y="371.20" width="1.42" height="73.57"/></g>
<g stroke="#57585e" stroke-width="0.35"><line x1="96.72" y1="371.20" x2="96.72" y2="433.52"/><line x1="98.44" y1="371.20" x2="98.44" y2="438.84"/><line x1="100.16" y1="371.20" x2="100.16" y2="442.64"/><line x1="101.88" y1="371.20" x2="101.88" y2="444.92"/></g>
<g fill="#e4b57d" stroke="#e4b57d" stroke-width="0.3"><rect x="106.95" y="371.20" width="1.59" height="37.85"/><rect x="108.84" y="371.20" width="1.59" height="46.97"/><rect x="110.73" y="371.20" width="1.59" height="54.57"/><rect x="112.62" y="371.20" width="1.59" height="60.65"/><rect x="114.51" y="371.20" width="1.59" height="65.21"/><rect x="116.40" y="371.20" width="1.59" height="68.25"/><rect x="118.29" y="371.20" width="1.59" height="69.77"/><rect x="120.18" y="371.20" width="1.59" height="71.29"/><rect x="122.07" y="371.20" width="1.59" height="72.05"/><rect x="123.96" y="371.20" width="1.59" height="72.81"/></g>
<g stroke="#c89f6e" stroke-width="0.35"><line x1="108.69" y1="371.20" x2="108.69" y2="418.32"/><line x1="110.58" y1="371.20" x2="110.58" y2="425.92"/><line x1="112.47" y1="371.20" x2="112.47" y2="432.00"/><line x1="114.36" y1="371.20" x2="114.36" y2="436.56"/><line x1="116.25" y1="371.20" x2="116.25" y2="439.60"/><line x1="118.14" y1="371.20" x2="118.14" y2="441.12"/><line x1="120.03" y1="371.20" x2="120.03" y2="442.64"/><line x1="121.92" y1="371.20" x2="121.92" y2="443.40"/><line x1="123.81" y1="371.20" x2="123.81" y2="444.16"/></g>
<g fill="#b3d49a" stroke="#b3d49a" stroke-width="0.3"><rect x="127.15" y="371.20" width="1.42" height="59.89"/><rect x="128.87" y="371.20" width="1.42" height="62.93"/><rect x="130.59" y="371.20" width="1.42" height="65.21"/><rect x="132.31" y="371.20" width="1.42" height="67.49"/><rect x="134.03" y="371.20" width="1.42" height="69.77"/><rect x="135.75" y="371.20" width="1.42" height="73.57"/></g>
<g stroke="#9dba87" stroke-width="0.35"><line x1="128.72" y1="371.20" x2="128.72" y2="434.28"/><line x1="130.44" y1="371.20" x2="130.44" y2="436.56"/><line x1="132.16" y1="371.20" x2="132.16" y2="438.84"/><line x1="133.88" y1="371.20" x2="133.88" y2="441.12"/><line x1="135.60" y1="371.20" x2="135.60" y2="444.92"/></g>
<g fill="#a9a9ab" stroke="#a9a9ab" stroke-width="0.3"><rect x="139.45" y="371.20" width="1.40" height="67.49"/><rect x="141.15" y="371.20" width="1.40" height="72.05"/><rect x="142.85" y="371.20" width="1.40" height="73.57"/></g>
<g stroke="#949496" stroke-width="0.35"><line x1="141.00" y1="371.20" x2="141.00" y2="443.40"/><line x1="142.70" y1="371.20" x2="142.70" y2="444.92"/></g>
<rect x="146.50" y="357.90" width="1.00" height="13.30" fill="#6a7a98"/>
<g fill="#7f9dd2" stroke="#6b85b2" stroke-width="0.3"><rect x="147.85" y="371.20" width="1.71" height="1.37"/><rect x="150.16" y="371.20" width="1.71" height="7.16"/><rect x="152.46" y="371.20" width="1.71" height="19.14"/><rect x="154.77" y="371.20" width="1.71" height="31.54"/><rect x="157.07" y="371.20" width="1.71" height="41.11"/><rect x="159.38" y="371.20" width="1.71" height="49.05"/><rect x="161.68" y="371.20" width="1.71" height="54.70"/><rect x="163.99" y="371.20" width="1.71" height="58.75"/><rect x="166.29" y="371.20" width="1.71" height="59.84"/><rect x="168.60" y="371.20" width="1.71" height="60.83"/><rect x="170.91" y="371.20" width="1.71" height="61.55"/><rect x="173.21" y="371.20" width="1.71" height="62.28"/><rect x="175.52" y="371.20" width="1.71" height="63.00"/><rect x="177.82" y="371.20" width="1.71" height="63.71"/><rect x="180.13" y="371.20" width="1.71" height="64.12"/><rect x="182.43" y="371.20" width="1.71" height="64.52"/><rect x="184.74" y="371.20" width="1.71" height="64.93"/><rect x="187.04" y="371.20" width="1.71" height="65.34"/><rect x="189.35" y="371.20" width="1.71" height="65.75"/><rect x="191.66" y="371.20" width="1.71" height="66.17"/><rect x="193.96" y="371.20" width="1.71" height="66.60"/><rect x="196.27" y="371.20" width="1.71" height="67.03"/><rect x="198.57" y="371.20" width="1.71" height="67.47"/><rect x="200.88" y="371.20" width="1.71" height="67.90"/><rect x="203.18" y="371.20" width="1.71" height="68.36"/><rect x="205.49" y="371.20" width="1.71" height="68.90"/><rect x="207.79" y="371.20" width="1.71" height="69.44"/><rect x="210.10" y="371.20" width="1.71" height="69.99"/><rect x="212.41" y="371.20" width="1.71" height="70.53"/><rect x="214.71" y="371.20" width="1.71" height="71.07"/><rect x="217.02" y="371.20" width="1.71" height="71.53"/><rect x="219.32" y="371.20" width="1.71" height="71.94"/><rect x="221.63" y="371.20" width="1.71" height="72.35"/><rect x="223.93" y="371.20" width="1.71" height="72.76"/><rect x="226.24" y="371.20" width="1.71" height="73.16"/><rect x="228.54" y="371.20" width="1.71" height="73.57"/></g>
<line x1="53.90" y1="333.20" x2="53.90" y2="447.20" stroke="#72757c" stroke-width="1"/>
<line x1="50.90" y1="333.20" x2="53.90" y2="333.20" stroke="#72757c" stroke-width="1"/>
<text x="48.5" y="336.2" font-size="8.6" font-weight="normal" fill="#3a3a3a" text-anchor="end" textLength="7.7" lengthAdjust="spacingAndGlyphs" stroke="#3a3a3a" stroke-width="0.12">50</text>
<line x1="50.90" y1="371.20" x2="53.90" y2="371.20" stroke="#72757c" stroke-width="1"/>
<text x="48.5" y="374.2" font-size="8.6" font-weight="normal" fill="#3a3a3a" text-anchor="end" textLength="4.0" lengthAdjust="spacingAndGlyphs" stroke="#3a3a3a" stroke-width="0.12">0</text>
<line x1="50.90" y1="409.20" x2="53.90" y2="409.20" stroke="#72757c" stroke-width="1"/>
<text x="48.5" y="412.2" font-size="8.6" font-weight="normal" fill="#3a3a3a" text-anchor="end" textLength="11.8" lengthAdjust="spacingAndGlyphs" stroke="#3a3a3a" stroke-width="0.12">–50</text>
<line x1="50.90" y1="447.20" x2="53.90" y2="447.20" stroke="#72757c" stroke-width="1"/>
<text x="48.5" y="450.2" font-size="8.6" font-weight="normal" fill="#3a3a3a" text-anchor="end" textLength="16.0" lengthAdjust="spacingAndGlyphs" stroke="#3a3a3a" stroke-width="0.12">–100</text>
<text x="0" y="0" font-size="8.4" font-weight="bold" fill="#1e1e1e" text-anchor="middle" textLength="102" lengthAdjust="spacingAndGlyphs" transform="translate(22.9,390.5) rotate(-90)">Change from Baseline (%)</text>
<line x1="54.50" y1="371.20" x2="233.30" y2="371.20" stroke="#3c3c44" stroke-width="0.9" stroke-dasharray="2.4,2.3" stroke-opacity="0.75"/>
<line x1="54.50" y1="409.20" x2="233.30" y2="409.20" stroke="#3c3c44" stroke-width="0.9" stroke-dasharray="2.4,2.3" stroke-opacity="0.75"/>
<text x="270.8" y="287.0" font-size="10" font-weight="bold" fill="#1e1e1e" text-anchor="start">F</text>
<text x="283.8" y="287.0" font-size="10" font-weight="bold" fill="#1e1e1e" text-anchor="start" textLength="88.3" lengthAdjust="spacingAndGlyphs">Bone Marrow Infiltrate</text>
<rect x="330.40" y="295.00" width="6.30" height="6.00" fill="#b5402a"/>
<text x="340.59999999999997" y="300.2" font-size="8.3" font-weight="normal" fill="#2b2b2b" text-anchor="start" textLength="26.4" lengthAdjust="spacingAndGlyphs" stroke="#2b2b2b" stroke-width="0.18">200 mg</text>
<rect x="330.40" y="306.90" width="6.30" height="6.00" fill="#f6d59c"/>
<text x="340.59999999999997" y="312.09999999999997" font-size="8.3" font-weight="normal" fill="#2b2b2b" text-anchor="start" textLength="26.4" lengthAdjust="spacingAndGlyphs" stroke="#2b2b2b" stroke-width="0.18">150 mg</text>
<rect x="330.40" y="318.80" width="6.30" height="6.00" fill="#4a3d96"/>
<text x="340.59999999999997" y="324.0" font-size="8.3" font-weight="normal" fill="#2b2b2b" text-anchor="start" textLength="26.4" lengthAdjust="spacingAndGlyphs" stroke="#2b2b2b" stroke-width="0.18">200 mg</text>
<rect x="379.20" y="295.00" width="6.30" height="6.00" fill="#b3cde0"/>
<text x="389.4" y="300.2" font-size="8.3" font-weight="normal" fill="#2b2b2b" text-anchor="start" textLength="27.0" lengthAdjust="spacingAndGlyphs" stroke="#2b2b2b" stroke-width="0.18">300 mg</text>
<rect x="379.20" y="306.90" width="6.30" height="6.00" fill="#33363d"/>
<text x="389.4" y="312.09999999999997" font-size="8.3" font-weight="normal" fill="#2b2b2b" text-anchor="start" textLength="27.0" lengthAdjust="spacingAndGlyphs" stroke="#2b2b2b" stroke-width="0.18">400 mg</text>
<rect x="379.20" y="318.80" width="6.30" height="6.00" fill="#d99b52"/>
<text x="389.4" y="324.0" font-size="8.3" font-weight="normal" fill="#2b2b2b" text-anchor="start" textLength="27.0" lengthAdjust="spacingAndGlyphs" stroke="#2b2b2b" stroke-width="0.18">600 mg</text>
<rect x="428.20" y="295.00" width="6.30" height="6.00" fill="#9fcb84"/>
<text x="438.4" y="300.2" font-size="8.3" font-weight="normal" fill="#2b2b2b" text-anchor="start" textLength="27.0" lengthAdjust="spacingAndGlyphs" stroke="#2b2b2b" stroke-width="0.18">800 mg</text>
<rect x="428.20" y="306.90" width="6.30" height="6.00" fill="#a3a3a3"/>
<text x="438.4" y="312.09999999999997" font-size="8.3" font-weight="normal" fill="#2b2b2b" text-anchor="start" textLength="31.2" lengthAdjust="spacingAndGlyphs" stroke="#2b2b2b" stroke-width="0.18">1200 mg</text>
<rect x="428.20" y="318.80" width="6.30" height="6.00" fill="#5f84c6"/>
<text x="438.4" y="324.0" font-size="8.3" font-weight="normal" fill="#2b2b2b" text-anchor="start" textLength="37.5" lengthAdjust="spacingAndGlyphs" stroke="#2b2b2b" stroke-width="0.18">Expansion</text>
<text x="438.4" y="334.0" font-size="8.3" font-weight="normal" fill="#2b2b2b" text-anchor="start" textLength="33.2" lengthAdjust="spacingAndGlyphs" stroke="#2b2b2b" stroke-width="0.18">(400 mg)</text>
<g fill="#b9624f" stroke="#b9624f" stroke-width="0.3"><rect x="317.45" y="371.20" width="1.52" height="56.24"/><rect x="319.27" y="371.20" width="1.52" height="61.57"/><rect x="321.09" y="371.20" width="1.52" height="63.86"/></g>
<g stroke="#a25645" stroke-width="0.35"><line x1="319.12" y1="371.20" x2="319.12" y2="432.92"/><line x1="320.94" y1="371.20" x2="320.94" y2="435.21"/></g>
<g fill="#f1d6a3" stroke="#ccb58a" stroke-width="0.3"><rect x="327.25" y="371.20" width="1.75" height="53.19"/><rect x="329.60" y="371.20" width="1.75" height="76.05"/></g>
<rect x="334.30" y="332.80" width="1.20" height="38.40" fill="#5a4ea6"/>
<g fill="#7a6bb4" stroke="#7a6bb4" stroke-width="0.3"><rect x="336.15" y="371.20" width="1.45" height="43.28"/><rect x="337.90" y="371.20" width="1.45" height="63.10"/><rect x="339.65" y="371.20" width="1.45" height="76.05"/><rect x="341.40" y="371.20" width="1.45" height="76.05"/></g>
<g stroke="#6b5e9e" stroke-width="0.35"><line x1="337.75" y1="371.20" x2="337.75" y2="434.45"/><line x1="339.50" y1="371.20" x2="339.50" y2="447.40"/><line x1="341.25" y1="371.20" x2="341.25" y2="447.40"/></g>
<g fill="#c6d5e6" stroke="#a8b5c3" stroke-width="0.3"><rect x="345.45" y="371.20" width="1.55" height="62.33"/><rect x="347.60" y="371.20" width="1.55" height="76.05"/><rect x="349.75" y="371.20" width="1.55" height="76.05"/></g>
<g fill="#63646b" stroke="#63646b" stroke-width="0.3"><rect x="354.35" y="371.20" width="1.46" height="50.90"/><rect x="356.11" y="371.20" width="1.46" height="69.19"/><rect x="357.87" y="371.20" width="1.46" height="73.00"/><rect x="359.63" y="371.20" width="1.46" height="76.05"/><rect x="361.39" y="371.20" width="1.46" height="76.05"/></g>
<g stroke="#57585e" stroke-width="0.35"><line x1="355.96" y1="371.20" x2="355.96" y2="440.54"/><line x1="357.72" y1="371.20" x2="357.72" y2="444.35"/><line x1="359.48" y1="371.20" x2="359.48" y2="447.40"/><line x1="361.24" y1="371.20" x2="361.24" y2="447.40"/></g>
<g fill="#e4b57d" stroke="#e4b57d" stroke-width="0.3"><rect x="367.95" y="371.20" width="1.46" height="31.09"/><rect x="369.71" y="371.20" width="1.46" height="63.10"/><rect x="371.47" y="371.20" width="1.46" height="66.91"/><rect x="373.23" y="371.20" width="1.46" height="71.48"/><rect x="374.99" y="371.20" width="1.46" height="76.05"/><rect x="376.75" y="371.20" width="1.46" height="76.05"/><rect x="378.51" y="371.20" width="1.46" height="76.05"/><rect x="380.27" y="371.20" width="1.46" height="76.05"/></g>
<g stroke="#c89f6e" stroke-width="0.35"><line x1="369.56" y1="371.20" x2="369.56" y2="434.45"/><line x1="371.32" y1="371.20" x2="371.32" y2="438.26"/><line x1="373.08" y1="371.20" x2="373.08" y2="442.83"/><line x1="374.84" y1="371.20" x2="374.84" y2="447.40"/><line x1="376.60" y1="371.20" x2="376.60" y2="447.40"/><line x1="378.36" y1="371.20" x2="378.36" y2="447.40"/><line x1="380.12" y1="371.20" x2="380.12" y2="447.40"/></g>
<g fill="#b3d49a" stroke="#b3d49a" stroke-width="0.3"><rect x="384.35" y="371.20" width="1.50" height="71.48"/><rect x="386.15" y="371.20" width="1.50" height="76.05"/><rect x="387.95" y="371.20" width="1.50" height="76.05"/><rect x="389.75" y="371.20" width="1.50" height="76.05"/><rect x="391.55" y="371.20" width="1.50" height="76.05"/><rect x="393.35" y="371.20" width="1.50" height="76.05"/></g>
<g stroke="#9dba87" stroke-width="0.35"><line x1="386.00" y1="371.20" x2="386.00" y2="447.40"/><line x1="387.80" y1="371.20" x2="387.80" y2="447.40"/><line x1="389.60" y1="371.20" x2="389.60" y2="447.40"/><line x1="391.40" y1="371.20" x2="391.40" y2="447.40"/><line x1="393.20" y1="371.20" x2="393.20" y2="447.40"/></g>
<g fill="#a9a9ab" stroke="#8f8f91" stroke-width="0.3"><rect x="397.45" y="371.20" width="1.57" height="56.24"/><rect x="399.62" y="371.20" width="1.57" height="76.05"/><rect x="401.79" y="371.20" width="1.57" height="76.05"/></g>
<rect x="406.70" y="333.70" width="1.10" height="37.50" fill="#6f8fcc"/>
<g fill="#7f9dd2" stroke="#6b85b2" stroke-width="0.3"><rect x="410.25" y="371.20" width="1.67" height="14.33"/><rect x="412.52" y="371.20" width="1.67" height="21.18"/><rect x="414.80" y="371.20" width="1.67" height="28.20"/><rect x="417.07" y="371.20" width="1.67" height="34.06"/><rect x="419.35" y="371.20" width="1.67" height="38.63"/><rect x="421.62" y="371.20" width="1.67" height="43.59"/><rect x="423.90" y="371.20" width="1.67" height="48.76"/><rect x="426.17" y="371.20" width="1.67" height="52.49"/><rect x="428.44" y="371.20" width="1.67" height="56.03"/><rect x="430.72" y="371.20" width="1.67" height="59.03"/><rect x="432.99" y="371.20" width="1.67" height="61.71"/><rect x="435.27" y="371.20" width="1.67" height="62.71"/><rect x="437.54" y="371.20" width="1.67" height="63.70"/><rect x="439.82" y="371.20" width="1.67" height="64.69"/><rect x="442.09" y="371.20" width="1.67" height="65.62"/><rect x="444.36" y="371.20" width="1.67" height="66.55"/><rect x="446.64" y="371.20" width="1.67" height="67.48"/><rect x="448.91" y="371.20" width="1.67" height="68.40"/><rect x="451.19" y="371.20" width="1.67" height="69.26"/><rect x="453.46" y="371.20" width="1.67" height="69.72"/><rect x="455.74" y="371.20" width="1.67" height="70.18"/><rect x="458.01" y="371.20" width="1.67" height="70.63"/><rect x="460.28" y="371.20" width="1.67" height="71.09"/><rect x="462.56" y="371.20" width="1.67" height="71.57"/><rect x="464.83" y="371.20" width="1.67" height="72.18"/><rect x="467.11" y="371.20" width="1.67" height="72.78"/><rect x="469.38" y="371.20" width="1.67" height="73.39"/><rect x="471.66" y="371.20" width="1.67" height="73.99"/><rect x="473.93" y="371.20" width="1.67" height="74.56"/><rect x="476.20" y="371.20" width="1.67" height="74.80"/><rect x="478.48" y="371.20" width="1.67" height="75.05"/><rect x="480.75" y="371.20" width="1.67" height="75.30"/><rect x="483.03" y="371.20" width="1.67" height="75.55"/><rect x="485.30" y="371.20" width="1.67" height="75.80"/><rect x="487.58" y="371.20" width="1.67" height="76.05"/></g>
<line x1="312.40" y1="332.80" x2="312.40" y2="447.40" stroke="#72757c" stroke-width="1"/>
<line x1="309.40" y1="333.10" x2="312.40" y2="333.10" stroke="#72757c" stroke-width="1"/>
<text x="307.0" y="336.1" font-size="8.6" font-weight="normal" fill="#3a3a3a" text-anchor="end" textLength="7.7" lengthAdjust="spacingAndGlyphs" stroke="#3a3a3a" stroke-width="0.12">50</text>
<line x1="309.40" y1="371.20" x2="312.40" y2="371.20" stroke="#72757c" stroke-width="1"/>
<text x="307.0" y="374.2" font-size="8.6" font-weight="normal" fill="#3a3a3a" text-anchor="end" textLength="4.0" lengthAdjust="spacingAndGlyphs" stroke="#3a3a3a" stroke-width="0.12">0</text>
<line x1="309.40" y1="409.30" x2="312.40" y2="409.30" stroke="#72757c" stroke-width="1"/>
<text x="307.0" y="412.29999999999995" font-size="8.6" font-weight="normal" fill="#3a3a3a" text-anchor="end" textLength="11.8" lengthAdjust="spacingAndGlyphs" stroke="#3a3a3a" stroke-width="0.12">–50</text>
<line x1="309.40" y1="447.40" x2="312.40" y2="447.40" stroke="#72757c" stroke-width="1"/>
<text x="307.0" y="450.4" font-size="8.6" font-weight="normal" fill="#3a3a3a" text-anchor="end" textLength="16.0" lengthAdjust="spacingAndGlyphs" stroke="#3a3a3a" stroke-width="0.12">–100</text>
<text x="0" y="0" font-size="8.4" font-weight="bold" fill="#1e1e1e" text-anchor="middle" textLength="102" lengthAdjust="spacingAndGlyphs" transform="translate(283.1,390.5) rotate(-90)">Change from Baseline (%)</text>
<line x1="313.00" y1="371.20" x2="494.00" y2="371.20" stroke="#3c3c44" stroke-width="0.9" stroke-dasharray="2.4,2.3" stroke-opacity="0.75"/>
<line x1="313.00" y1="409.30" x2="494.00" y2="409.30" stroke="#3c3c44" stroke-width="0.9" stroke-dasharray="2.4,2.3" stroke-opacity="0.75"/>
</svg>
</body></html>
